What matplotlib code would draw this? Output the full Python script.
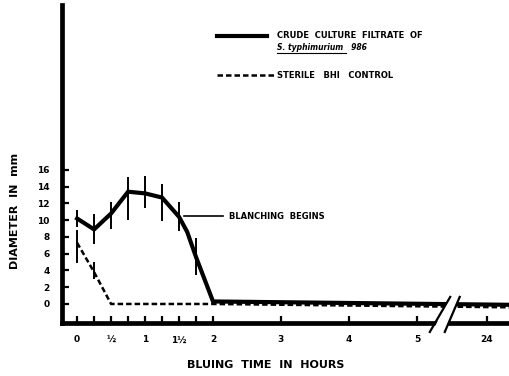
import numpy as np
import matplotlib.pyplot as plt

# crude culture filtrate (solid), hours vs diameter in mm
crude_t = [0, 0.25, 0.5, 0.75, 1.0, 1.25, 1.5, 1.62, 1.75, 2.0, 6.37]
crude_d = [10.2, 8.9, 10.8, 13.4, 13.2, 12.7, 10.4, 8.6, 5.6, 0.3, -0.1]
crude_err_t = [0, 0.25, 0.5, 0.75, 1.0, 1.25, 1.5, 1.75]
crude_err_d = [10.2, 8.9, 10.6, 12.6, 13.4, 12.1, 10.45, 5.7]
crude_err = [1.0, 1.8, 1.6, 2.6, 1.9, 2.2, 1.7, 2.2]

# sterile BHI control (dashed)
bhi_t = [0, 0.25, 0.5, 2.0, 6.37]
bhi_d = [7.3, 3.8, 0.0, 0.0, -0.4]
bhi_err_t = [0, 0.25]
bhi_err_d = [6.85, 3.95]
bhi_err = [1.95, 1.0]

tick_pos = [0, 0.25, 0.5, 0.75, 1, 1.25, 1.5, 1.75, 2, 3, 4, 5, 6.03]
tick_lab = ['0', '', '½', '', '1', '', '1½', '', '2', '3', '4', '5', '24']
yticks = [0, 2, 4, 6, 8, 10, 12, 14, 16]

plt.rcParams['font.family'] = ['Liberation Sans Narrow', 'DejaVu Sans']
plt.rcParams['font.weight'] = 'bold'

fig = plt.figure(figsize=(5.1, 3.76), dpi=100)
ax = fig.add_axes([0.1216, 0.141, 0.8784, 0.846])

ax.plot(crude_t, crude_d, color='black', lw=3, solid_joinstyle='miter', clip_on=False)
ax.errorbar(crude_err_t, crude_err_d, yerr=crude_err, fmt='none', ecolor='black', elinewidth=1.4)
ax.plot(bhi_t, bhi_d, color='black', lw=1.8, dashes=(2.2, 1.2))
ax.errorbar(bhi_err_t, bhi_err_d, yerr=bhi_err, fmt='none', ecolor='black', elinewidth=1.4)

ax.set_xlim(-0.222, 6.37)
ax.set_ylim(-2.27, 35.7)
for s in ['top', 'right']:
    ax.spines[s].set_visible(False)
for s in ['left', 'bottom']:
    ax.spines[s].set_linewidth(3.4)

ax.set_xticks(tick_pos)
ax.set_xticklabels(tick_lab)
ax.set_yticks(yticks)
ax.tick_params(direction='in', length=5, width=1.6, labelsize=6.5, pad=9)

# axis break
brk = plt.Polygon([[5.22, -3.6], [5.5, 0.9], [5.62, 0.9], [5.40, -3.6]],
                  closed=True, color='white', clip_on=False, zorder=5)
ax.add_patch(brk)
ax.plot([5.19, 5.49], [-3.34, 0.84], color='black', lw=1.6, clip_on=False, zorder=6)
ax.plot([5.41, 5.63], [-3.34, 0.84], color='black', lw=1.6, clip_on=False, zorder=6)

# annotation
ax.plot([1.57, 2.15], [10.5, 10.5], color='black', lw=1.2)
ax.text(2.24, 10.5, 'BLANCHING  BEGINS', fontsize=6, va='center')

# legend
ax.plot([2.06, 2.8], [32.0, 32.0], color='black', lw=3)
ax.text(2.94, 32.0, 'CRUDE  CULTURE  FILTRATE  OF', fontsize=6, va='center')
ax.text(2.94, 30.6, 'S. typhimurium   986', fontsize=5.5, va='center', style='italic')
ax.plot([2.94, 3.95], [29.9, 29.9], color='black', lw=0.8)
ax.plot([2.06, 2.91], [27.3, 27.3], color='black', lw=1.8, dashes=(2.2, 1.2))
ax.text(2.94, 27.3, 'STERILE   BHI   CONTROL', fontsize=6, va='center')

fig.text(0.03, 0.44, 'DIAMETER  IN  mm', rotation=90, ha='center', va='center', fontsize=8)
fig.text(0.52, 0.03, 'BLUING  TIME  IN  HOURS', ha='center', va='center', fontsize=8)

fig.savefig('out.png', dpi=100)
